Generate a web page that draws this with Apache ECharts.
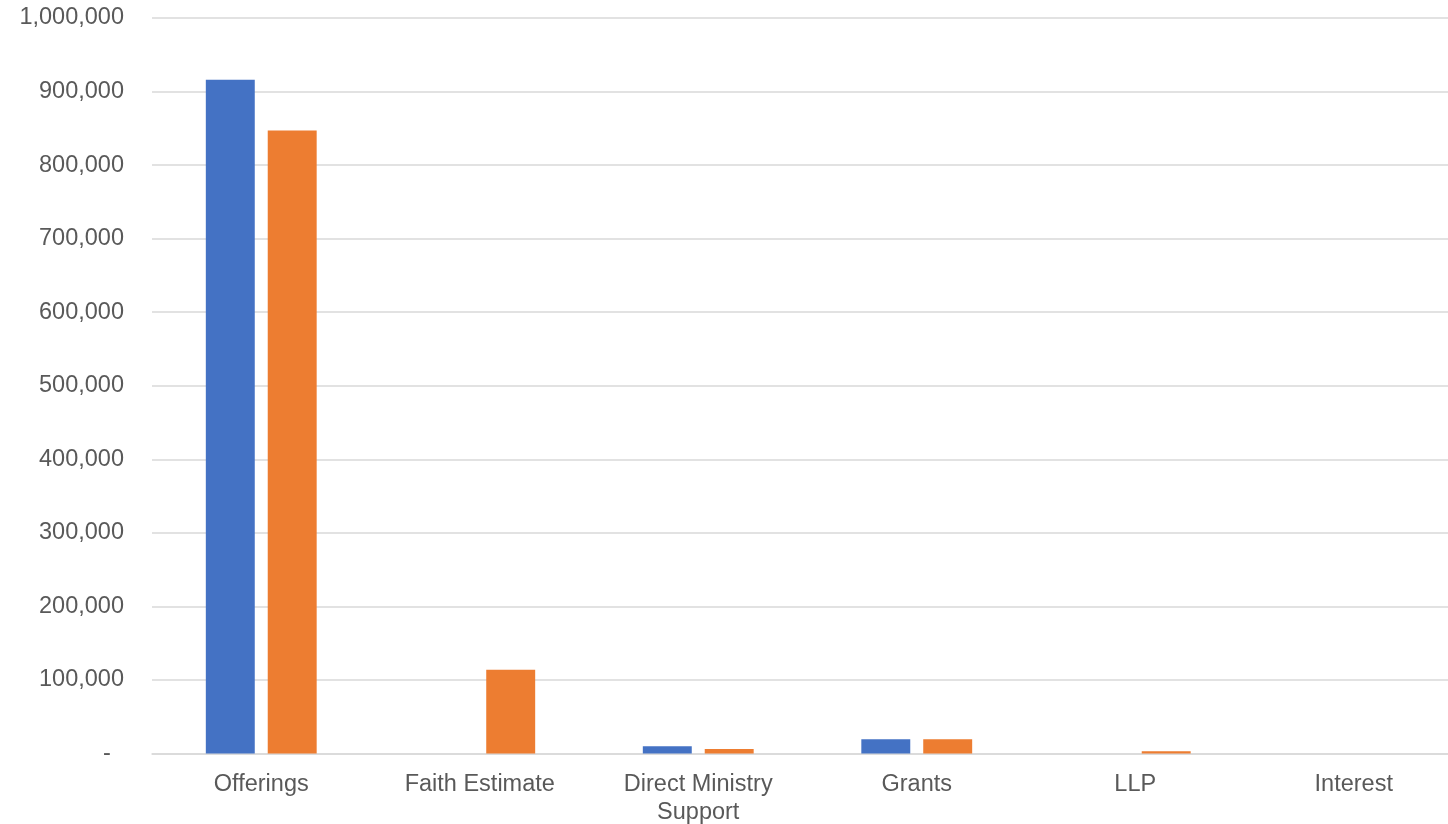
<!DOCTYPE html>
<html>
<head>
<meta charset="utf-8">
<script src="https://cdn.jsdelivr.net/npm/echarts@6/dist/echarts.min.js"></script>
<style>
html,body{margin:0;padding:0;background:#fff;overflow:hidden;width:1448px;height:824px;}
#chart{width:1463px;height:824px;}
</style>
</head>
<body>
<div id="chart"></div>
<script>
const categories = ["Offerings", "Faith Estimate", "Direct Ministry\nSupport", "Grants", "LLP", "Interest"];
const seriesBlue = [916000, 0, 10000, 19500, 0, 0];
const seriesOrange = [847000, 114000, 6000, 19500, 3000, 0];
const yTicks = { min: 0, max: 1000000, interval: 100000 };

const chart = echarts.init(document.getElementById('chart'));
const font = '"Liberation Sans", Arial, sans-serif';
chart.setOption({
  animation: false,
  backgroundColor: '#ffffff',
  grid: { left: 152, right: 0, top: 18, bottom: 70.5, containLabel: false, outerBoundsMode: 'none' },
  xAxis: {
    type: 'category',
    data: categories,
    axisLine: { show: true, lineStyle: { color: '#d9d9d9', width: 1.5 } },
    axisTick: { show: false },
    axisLabel: { color: '#595959', fontSize: 23.5, fontFamily: font, margin: 17, lineHeight: 28, interval: 0 }
  },
  yAxis: {
    type: 'value',
    min: yTicks.min, max: yTicks.max, interval: yTicks.interval,
    axisLine: { show: false },
    axisTick: { show: false },
    splitLine: { lineStyle: { color: '#d9d9d9', width: 1.5 } },
    axisLabel: {
      color: '#595959', fontSize: 23.5, fontFamily: font, margin: 28,
      formatter: v => v === 0 ? '-  ' : v.toLocaleString('en-US')
    }
  },
  series: [
    { name: 'Series 1', type: 'bar', data: seriesBlue, itemStyle: { color: '#4472C4' }, barWidth: '22.4%', barGap: '26.5%' },
    { name: 'Series 2', type: 'bar', data: seriesOrange, itemStyle: { color: '#ED7D31' }, barWidth: '22.4%', barGap: '26.5%' }
  ]
});
</script>
</body>
</html>
